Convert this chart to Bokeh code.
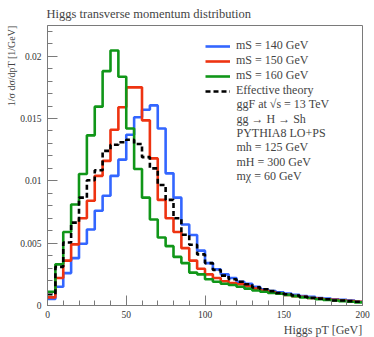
from bokeh.plotting import figure
from bokeh.models import (Range1d, FixedTicker, Label, Legend, LegendItem,
                          CustomJSTickFormatter, Title)
from bokeh.embed import file_html
from bokeh.resources import INLINE

# ---- data (bin edges in GeV, values in units of 1e-3 / GeV) ----
bin_edges = list(range(0, 205, 5))
ms140 = [0.53, 1.5, 2.6, 3.8, 4.95, 6.1, 7.6, 8.8, 10.4, 11.7, 13.7, 15.1, 15.7, 16.05,
         14.2, 10.6, 8.65, 6.5, 5.65, 4.4, 3.4, 2.9, 2.5, 2.2, 1.9, 1.75, 1.5, 1.3, 1.15,
         1.05, 0.95, 0.85, 0.75, 0.7, 0.6, 0.55, 0.5, 0.45, 0.4, 0.3]
ms150 = [0.65, 2.2, 3.6, 4.9, 7.0, 8.4, 10.4, 11.6, 14.1, 15.9, 17.5, 17.5, 14.85, 11.8,
         8.47, 7.0, 5.9, 4.6, 3.6, 2.95, 2.5, 2.2, 1.95, 1.8, 1.7, 1.55, 1.35, 1.2, 1.05,
         0.95, 0.85, 0.75, 0.7, 0.6, 0.55, 0.5, 0.45, 0.4, 0.35, 0.3]
ms160 = [1.1, 3.3, 5.9, 8.1, 10.55, 13.65, 15.95, 18.8, 20.45, 18.35, 14.2, 10.95, 8.65,
         6.9, 5.45, 4.76, 3.9, 3.4, 2.64, 2.5, 2.1, 1.9, 1.75, 1.65, 1.5, 1.35, 1.2, 1.1,
         1.0, 0.95, 0.85, 0.75, 0.65, 0.6, 0.5, 0.45, 0.4, 0.35, 0.3, 0.25]
eff_theory = [0.9, 3.1, 5.05, 6.65, 8.65, 10.05, 10.85, 12.4, 12.9, 13.1, 13.3, 12.96,
              11.9, 11.0, 9.66, 8.47, 7.0, 5.67, 4.87, 4.1, 3.4, 2.85, 2.4, 2.1, 1.9, 1.7,
              1.45, 1.3, 1.15, 1.0, 0.9, 0.8, 0.7, 0.6, 0.55, 0.5, 0.4, 0.4, 0.35, 0.3]
series_labels = ["mS = 140 GeV", "mS = 150 GeV", "mS = 160 GeV", "Effective theory"]
info_lines = ["ggF at √s = 13 TeV", "gg → H → Sh", "PYTHIA8 LO+PS",
              "mh = 125 GeV", "mH = 300 GeV", "mχ = 60 GeV"]
x_major = [0, 50, 100, 150, 200]
x_minor = list(range(0, 201, 10))
y_major = [0, 0.005, 0.01, 0.015, 0.02]
y_minor = [i * 0.001 for i in range(0, 23)]

SERIF = "Liberation Serif"
GRAY = "#7a7a7a"

p = figure(width=374, height=337, output_backend="svg", toolbar_location=None,
           x_range=Range1d(0, 200), y_range=Range1d(0, 0.02246),
           min_border_left=47, min_border_right=12, min_border_top=22,
           min_border_bottom=32)
p.grid.visible = False
p.outline_line_color = GRAY
p.outline_line_width = 1
p.background_fill_color = "white"
p.border_fill_color = "white"

p.title.text = "Higgs transverse momentum distribution"
p.title.text_font = SERIF
p.title.text_font_size = "12.5px"
p.title.text_font_style = "normal"
p.title.align = "left"
p.title.standoff = 9
p.title.offset = -1

for ax in (p.xaxis[0], p.yaxis[0]):
    ax.axis_line_color = GRAY
    ax.major_tick_line_color = GRAY
    ax.minor_tick_line_color = GRAY
    ax.major_tick_in = 10
    ax.major_tick_out = 0
    ax.minor_tick_in = 5
    ax.minor_tick_out = 0
    ax.major_label_text_font = SERIF
    ax.major_label_text_font_size = "9.5px"
    ax.major_label_text_color = "#333333"
    ax.axis_label = None

p.xaxis.ticker = FixedTicker(ticks=x_major, minor_ticks=x_minor)
p.yaxis.ticker = FixedTicker(ticks=y_major, minor_ticks=y_minor)
p.xaxis.major_label_standoff = 5
p.yaxis.major_label_standoff = 6
p.yaxis.formatter = CustomJSTickFormatter(code="return String(Math.round(tick*1000)/1000);")


def stepped(vals):
    v = [x * 1e-3 for x in vals]
    return v + [v[-1]]


colors = ["#3366FF", "#EE3311", "#109618", "black"]
dashes = ["solid", "solid", "solid", "5 3"]
renderers = []
for vals, col, dash in zip([ms140, ms150, ms160, eff_theory], colors, dashes):
    r = p.step(x=bin_edges, y=stepped(vals), mode="after", line_color=col,
               line_width=2.6, line_dash=dash)
    renderers.append(r)

legend = Legend(items=[LegendItem(label=l, renderers=[r])
                       for l, r in zip(series_labels, renderers)],
                location=(158, 207), padding=0, margin=0, spacing=0,
                glyph_width=25, glyph_height=14, label_height=14, label_standoff=6,
                label_text_font=SERIF, label_text_font_size="12px",
                border_line_alpha=0, background_fill_alpha=0)
p.add_layout(legend)

# extra information lines (frame-relative screen coordinates)
for k, txt in enumerate(info_lines):
    c = 46.0 + 14.4 * (k + 4)
    p.add_layout(Label(x=189, y=305 - c, x_units="screen", y_units="screen",
                       text=txt, text_font=SERIF, text_font_size="12px",
                       text_baseline="middle", text_align="left"))

# y axis label (left panel, aligned to the top)
p.add_layout(Title(text="1/σ dσ/dpT [1/GeV]", text_font=SERIF, text_font_size="10px",
                   text_font_style="normal", align="right", standoff=2), "left")
# x axis label (below, aligned to the right)
p.add_layout(Title(text="Higgs pT [GeV]", text_font=SERIF, text_font_size="12px",
                   text_font_style="normal", align="right", standoff=0), "below")

open("out.html", "w").write(file_html(p, INLINE))
